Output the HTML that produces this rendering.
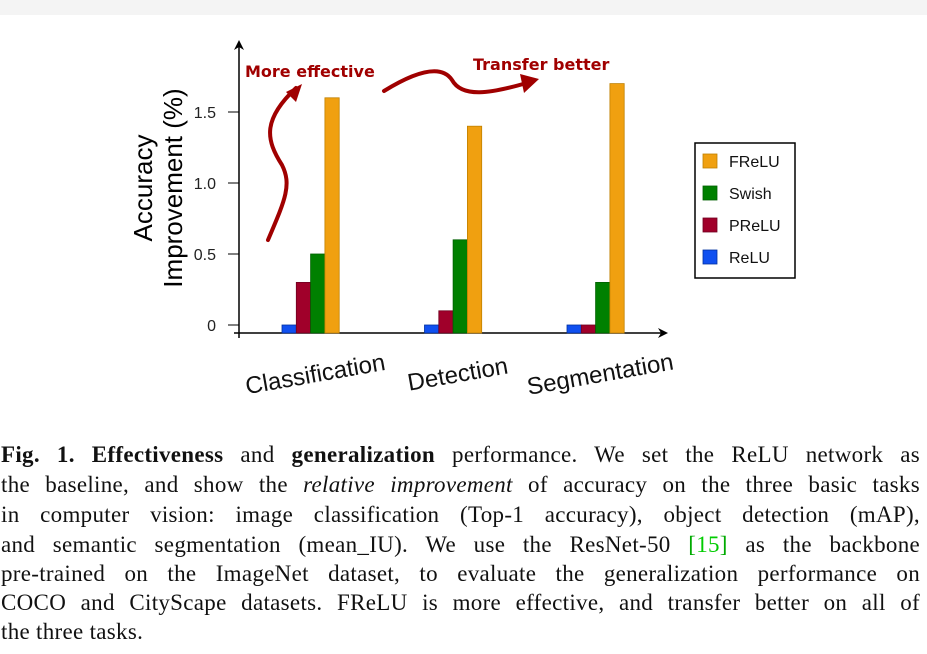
<!DOCTYPE html>
<html><head><meta charset="utf-8"><style>
html,body{margin:0;padding:0;background:#fff;width:927px;height:654px;overflow:hidden;position:relative}
#topbar{position:absolute;left:0;top:0;width:927px;height:15px;background:#f4f4f4}
.cap{position:absolute;left:1px;width:919px;font-family:"Liberation Serif",serif;font-size:23px;color:#111;white-space:nowrap;text-align:justify;text-align-last:justify;line-height:24px;letter-spacing:0.3px}
.cap.last{text-align-last:left}
</style></head><body>
<div id="topbar"></div>
<svg id="chart" width="927" height="420" style="position:absolute;left:0;top:0" font-family="Liberation Sans, sans-serif">
<defs>
<marker id="ah" markerWidth="10" markerHeight="10" refX="8" refY="5" orient="auto" markerUnits="userSpaceOnUse"><path d="M0,0 L10,5 L0,10 L3,5 Z" fill="#000"/></marker>
</defs>
<g id="axes"></g><g id="bars"></g>
<text transform="translate(152,188) rotate(-90)" text-anchor="middle" font-size="26" fill="#000">Accuracy</text>
<text transform="translate(182,188) rotate(-90)" text-anchor="middle" font-size="26" fill="#000">Improvement (%)</text>
<g>
<text x="245" y="77" font-family="DejaVu Sans, sans-serif" font-weight="bold" font-size="16" fill="#a00000">More effective</text>
<path d="M268,240 C285,200 292,185 282,165 C266,140 262,120 296,88" fill="none" stroke="#a00000" stroke-width="4" stroke-linecap="round"/>
<path d="M302,84 L286,92 L296,102 Z" fill="#a00000"/>
</g>
<g>
<text x="473" y="70" font-family="DejaVu Sans, sans-serif" font-weight="bold" font-size="16" fill="#a00000">Transfer better</text>
<path d="M384,91 C410,75 440,62 452,80 C462,98 490,94 530,82" fill="none" stroke="#a00000" stroke-width="4" stroke-linecap="round"/>
<path d="M539,79 L520,74 L524,93 Z" fill="#a00000"/>
</g>
<g>
<rect x="695" y="143" width="100" height="135" fill="#fff" stroke="#000" stroke-width="1.5"/>
<g id="legend-items"></g>
</g>
</svg>
<div class="cap" style="top:443px"><b>Fig. 1. Effectiveness</b> and <b>generalization</b> performance. We set the ReLU network as</div>
<div class="cap" style="top:473px">the baseline, and show the <i>relative improvement</i> of accuracy on the three basic tasks</div>
<div class="cap" style="top:503px">in computer vision: image classification (Top-1 accuracy), object detection (mAP),</div>
<div class="cap" style="top:533px">and semantic segmentation (mean_IU). We use the ResNet-50 <span style="color:#0a0">[</span><span style="color:#0c0">15</span><span style="color:#0a0">]</span> as the backbone</div>
<div class="cap" style="top:562px">pre-trained on the ImageNet dataset, to evaluate the generalization performance on</div>
<div class="cap" style="top:591px">COCO and CityScape datasets. FReLU is more effective, and transfer better on all of</div>
<div class="cap last" style="top:620px">the three tasks.</div>
<script>
const categories = ["Classification","Detection","Segmentation"];
const seriesNames = ["ReLU","PReLU","Swish","FReLU"];
const relu = [0,0,0];
const prelu = [0.3,0.1,0];
const swish = [0.5,0.6,0.3];
const frelu = [1.6,1.4,1.7];
const yTicks = [0,0.5,1.0,1.5];
const yTickLabels = ["0","0.5","1.0","1.5"];
const colors = ["#1050f0","#a0002a","#008000","#f0a010"];
const strokes = ["#0030a0","#700020","#006000","#c08000"];
const NS="http://www.w3.org/2000/svg";
function y(v){return 325 - v*142;}
function gx(i){return 282 + i*142.5;}
const BW=14.3, AXY=333, AXX=239;
function mk(tag,attrs,parent){const e=document.createElementNS(NS,tag);for(const k in attrs)e.setAttribute(k,attrs[k]);parent.appendChild(e);return e;}
const axes=document.getElementById('axes');
let a=mk('line',{x1:AXX,y1:338,x2:AXX,y2:42,stroke:'#000','stroke-width':1.5,'marker-end':'url(#ah)'},axes);


a=mk('line',{x1:234,y1:AXY,x2:666,y2:AXY,stroke:'#000','stroke-width':1.5,'marker-end':'url(#ah)'},axes);


yTicks.forEach((t,i)=>{
  const l=mk('line',{x1:228,y1:y(t),x2:AXX,y2:y(t),stroke:'#000','stroke-width':1},axes);
  
  
  const tx=mk('text',{x:216,y:y(t)+6,'text-anchor':'end','font-size':16,fill:'#222'},axes);
  tx.textContent=yTickLabels[i];
  
  
});
const series=[relu,prelu,swish,frelu];
const bars=document.getElementById('bars');
categories.forEach((c,i)=>{
  series.forEach((s,j)=>{
    const top=y(s[i]);
    const r=mk('rect',{x:gx(i)+j*BW,y:top,width:BW,height:AXY-top,fill:colors[j],stroke:strokes[j],'stroke-width':0.8},bars);
    
    
  });
  const cx=gx(i)+2*BW+6;
  const t=mk('text',{transform:'translate('+cx+',382) rotate(-10)','text-anchor':'middle','font-size':24,fill:'#111'},bars);
  t.textContent=c;
  
  
});
const leg=document.getElementById('legend-items');
const legOrder=[3,2,1,0];
legOrder.forEach((j,k)=>{
  const yy=161+k*32;
  const r=mk('rect',{x:703,y:yy-7,width:14,height:14,fill:colors[j],stroke:strokes[j],'stroke-width':0.8},leg);
  
  
  const t=mk('text',{x:729,y:yy+6,'font-size':16,fill:'#111'},leg);
  t.textContent=seriesNames[j];
  
  
});
</script>
</body></html>
